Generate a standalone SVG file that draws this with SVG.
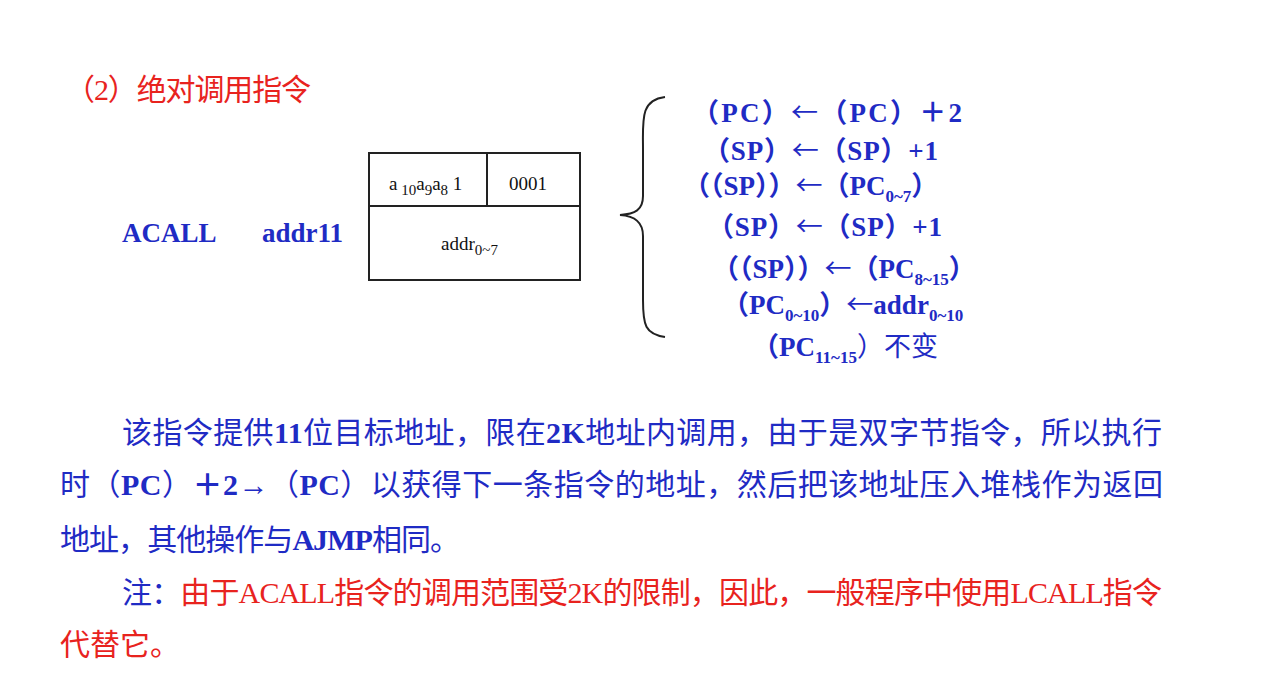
<svg xmlns="http://www.w3.org/2000/svg" width="1279" height="689" viewBox="0 0 1279 689">
<style>
.b{font-family:"Liberation Serif","Noto Sans CJK SC",serif;font-weight:bold;fill:#1f2bc4;font-size:27px}
.p{font-family:"Liberation Serif","Noto Sans CJK SC",serif;font-size:30px;fill:#1f2bc4}
.r{fill:#e8231e}
.k{font-family:"Liberation Serif",serif;font-size:19px;fill:#111}
.s{font-size:15px}
.sub{font-size:17px}
.ar{font-family:"Noto Sans CJK SC",sans-serif;font-weight:normal}
</style>
<rect width="1279" height="689" fill="#fff"/>
<text x="65" y="100" class="p r" font-size="28" textLength="246">（2）绝对调用指令</text>
<text x="122" y="242" class="b" font-size="25">ACALL</text>
<text x="262" y="242" class="b" font-size="25">addr11</text>
<g id="box" fill="none" stroke="#222" stroke-width="2">
<rect x="369" y="153" width="211" height="127"/>
<line x1="369" y1="206" x2="580" y2="206"/>
<line x1="487" y1="153" x2="487" y2="206"/>
</g>
<text x="389" y="190" class="k">a<tspan class="s" dy="5"> 10</tspan><tspan dy="-5">a</tspan><tspan class="s" dy="5">9</tspan><tspan dy="-5">a</tspan><tspan class="s" dy="5">8</tspan><tspan dy="-5"> 1</tspan></text>
<text x="509" y="190" class="k">0001</text>
<text x="441" y="250" class="k">addr<tspan class="s" dy="5">0~7</tspan></text>
<path d="M665,97 C640,100 643,120 643,150 L643,196 C643,210 635,214 620,215 C635,216 643,222 643,236 L643,300 C643,325 645,334 665,337" fill="none" stroke="#222" stroke-width="2"/>
<g class="b">
<text x="692" y="122" textLength="270">（PC）<tspan class="ar">←</tspan>（PC）＋2</text>
<text x="703" y="160" textLength="235">（SP）<tspan class="ar">←</tspan>（SP）+1</text>
<text x="683" y="195">（（SP））<tspan class="ar">←</tspan>（PC<tspan class="sub" dy="7">0~7</tspan><tspan dy="-7">）</tspan></text>
<text x="707" y="236" textLength="235">（SP）<tspan class="ar">←</tspan>（SP）+1</text>
<text x="712" y="278">（（SP））<tspan class="ar">←</tspan>（PC<tspan class="sub" dy="7">8~15</tspan><tspan dy="-7">）</tspan></text>
<text x="722" y="314">（PC<tspan class="sub" dy="7">0~10</tspan><tspan dy="-7">）</tspan><tspan class="ar">←</tspan>addr<tspan class="sub" dy="7">0~10</tspan></text>
<text x="752" y="356">（PC<tspan class="sub" dy="7">11~15</tspan><tspan dy="-7" font-weight="normal">）不变</tspan></text>
</g>
<g class="p">
<text x="122" y="443" textLength="1040">该指令提供<tspan font-weight="bold">11</tspan>位目标地址，限在<tspan font-weight="bold">2K</tspan>地址内调用，由于是双字节指令，所以执行</text>
<text x="60" y="495" textLength="1103">时（<tspan font-weight="bold">PC</tspan>）<tspan font-weight="bold">＋2→</tspan>（<tspan font-weight="bold">PC</tspan>）以获得下一条指令的地址，然后把该地址压入堆栈作为返回</text>
<text x="60" y="550" textLength="400">地址，其他操作与<tspan font-weight="bold">AJMP</tspan>相同。</text>
<text x="122" y="603" textLength="1040">注：<tspan class="r">由于ACALL指令的调用范围受2K的限制，因此，一般程序中使用LCALL指令</tspan></text>
<text x="60" y="655" class="r">代替它。</text>
</g>
</svg>
